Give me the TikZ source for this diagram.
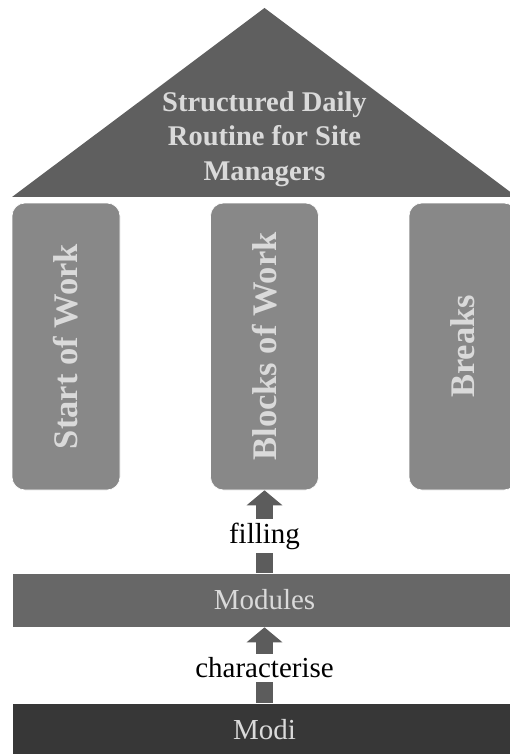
\documentclass[tikz,border=0pt]{standalone}
\usepackage{fontspec}
\setmainfont{Liberation Serif}
\usetikzlibrary{arrows.meta}
\definecolor{roofc}{HTML}{5F5F5F}
\definecolor{pillarc}{HTML}{888888}
\definecolor{modc}{HTML}{676767}
\definecolor{modic}{HTML}{373737}
\definecolor{arrc}{HTML}{5C5C5C}
\definecolor{lighttext}{HTML}{DADADA}
\begin{document}
\begin{tikzpicture}[x=1pt,y=-1pt,
  pillar/.style={fill=pillarc, draw=white, line width=0.6pt, rounded corners=13pt,
    minimum width=108pt, minimum height=287pt, inner sep=0pt},
  pillartext/.style={rotate=90, text=lighttext, inner sep=0pt,
    font=\fontsize{34.5}{40}\selectfont\bfseries},
  band/.style={draw=white, line width=0.6pt, minimum width=505pt, minimum height=54pt,
    inner sep=0pt, text=lighttext, font=\fontsize{29}{34}\selectfont},
  blockarr/.style={draw=arrc, line width=17pt, -{Triangle[width=35pt,length=15pt]}},
  lbl/.style={fill=white, inner xsep=3pt, inner ysep=3.5pt, text=black,
    font=\fontsize{29}{34}\selectfont}]
\useasboundingbox (0,0) rectangle (509,754);
% roof
\coordinate (apex) at (264.5,8);
\coordinate (rl) at (12,197);
\coordinate (rr) at (517,197);
\fill[roofc] (apex) -- (rr) -- (rl) -- cycle;
\draw[white, line width=0.6pt] (rl) -- (rr);
\node[align=center, text=lighttext, inner sep=0pt,
  font=\fontsize{28.5}{34.5}\selectfont\bfseries] (title) at (264.5,139)
  {Structured Daily\\Routine for Site\\Managers};
% pillars
\node[pillar] (p1) at (66,346.5) {};
\node[pillar] (p2) at (264.5,346.5) {};
\node[pillar] (p3) at (463,346.5) {};
\node[pillartext] (t1) at (p1.center) {Start of Work};
\node[pillartext] (t2) at (p2.center) {Blocks of Work};
\node[pillartext] (t3) at (p3.center) {Breaks};
% bands
\node[band, fill=modc] (mod) at (264.5,600) {Modules};
\node[band, fill=modic] (modi) at (264.5,730) {Modi};
% arrows
\draw[blockarr] (mod.north) -- (p2.south);
\draw[blockarr] (modi.north) -- (mod.south);
\node[lbl] (l1) at (264.5,536) {filling};
\node[lbl] (l2) at (264.5,668) {characterise};
\end{tikzpicture}
\end{document}
